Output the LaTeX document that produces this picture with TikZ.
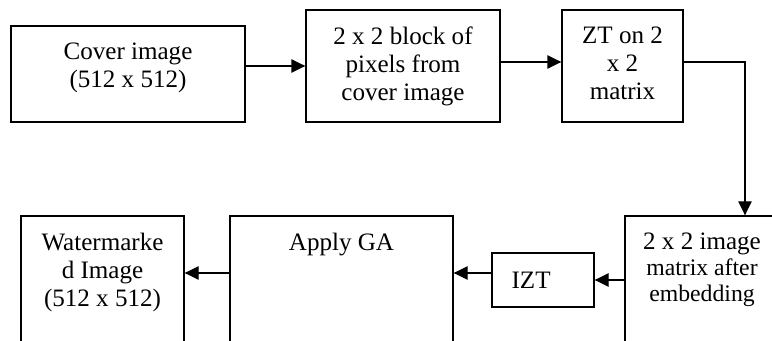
\documentclass[tikz,border=0pt]{standalone}
\usepackage{fontspec}
\setmainfont{Liberation Serif}
\usetikzlibrary{arrows.meta,positioning,fit}

\tikzset{
    box/.style={draw, line width=1pt, inner sep=0pt},
    txt/.style={inner sep=0pt, align=center, font=\fontsize{18.8}{21}\selectfont},
    arr/.style={line width=1pt, -{Triangle[length=10.5pt,width=10pt]}},
}
\newcommand{\smalltxt}[1]{{\fontsize{17.8}{20}\selectfont #1}}

\begin{document}
\begin{tikzpicture}[x=0.75pt, y=-0.75pt]
    \clip (0,0) rectangle (772,341);

    % upper row
    \node[box, fit={(11,26) (245,122)}] (cover) {};
    \node[box, fit={(306,10) (500,122)}] (blk) {};
    \node[box, fit={(562,10) (683,122)}] (zt) {};

    \node[txt, below=12.8pt of cover.north] (covertxt) {Cover image\\ (512 x 512)};
    \node[txt, below=12.8pt of blk.north] (blktxt) {2 x 2 block of\\ pixels from\\ cover image};
    \node[txt, below=12.8pt of zt.north] (zttxt) {ZT on 2\\ x 2\\ matrix};

    % lower row, runs off the page
    \node[box, fit={(625,216) (779,360)}] (emb) {};
    \node[box, fit={(492,253) (594,307)}] (izt) {};
    \node[box, fit={(230,216) (453,360)}] (ga) {};
    \node[box, fit={(21,216) (184,360)}] (wm) {};

    \node[txt, below=12.8pt of emb.north] (embtxt) {2 x 2 image\\[-1pt] \smalltxt{matrix after}\\[-1.5pt] \smalltxt{embedding}};
    \node[txt, right=15pt of izt.west] (izttxt) {IZT};
    \node[txt, below=12.8pt of ga.north] (gatxt) {Apply GA};
    \node[txt, below=12.8pt of wm.north] (wmtxt) {Watermarke\\ d Image\\ (512 x 512)};

    % connectors
    \draw[arr] (cover.east |- blk.west) -- (blk.west);
    \draw[arr] ([yshift=3pt]blk.east) -- ([yshift=3pt]zt.west);
    \draw[arr] ([yshift=3pt]zt.east) -| ([xshift=32.25pt]emb.north);
    \draw[arr] (emb.west |- izt.east) -- (izt.east);
    \draw[arr] ([yshift=5.25pt]izt.west) -- ([yshift=5.25pt]izt.west -| ga.east);
    \draw[arr] ([yshift=11.25pt]ga.west) -- ([yshift=11.25pt]ga.west -| wm.east);
\end{tikzpicture}
\end{document}
